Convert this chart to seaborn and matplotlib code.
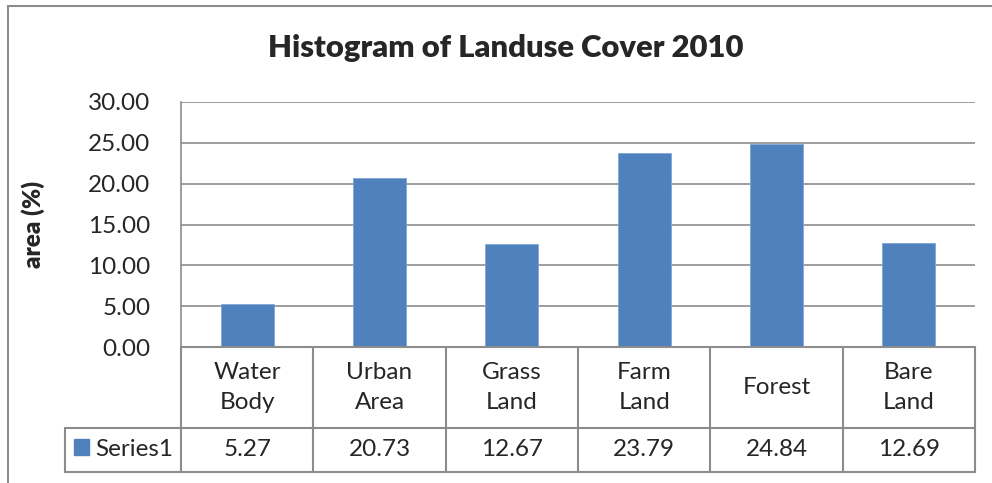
import matplotlib
matplotlib.use("Agg")
import matplotlib.pyplot as plt
import seaborn as sns
import pandas as pd
from matplotlib.lines import Line2D
from matplotlib.patches import Rectangle

categories = ["Water\nBody", "Urban\nArea", "Grass\nLand", "Farm\nLand", "Forest", "Bare\nLand"]
values = [5.27, 20.73, 12.67, 23.79, 24.84, 12.69]
value_labels = ["5.27", "20.73", "12.67", "23.79", "24.84", "12.69"]
series_name = "Series1"
yticks = [0, 5, 10, 15, 20, 25, 30]

df = pd.DataFrame({"cat": categories, "val": values})

sns.set_style("white")
plt.rcParams["font.family"] = ["Lato", "DejaVu Sans"]

W, H = 992, 483
fig = plt.figure(figsize=(W / 100, H / 100), dpi=100)

def fx(x):
    return x / W

def fy(y):
    return 1 - y / H

# plot area in pixels
left, right, top, bottom = 181, 975, 102, 347
ax = fig.add_axes([fx(left), fy(bottom), fx(right) - fx(left), fy(top) - fy(bottom)])

bar_color = "#4F81BD"
sns.barplot(data=df, x="cat", y="val", color=bar_color, width=0.4, saturation=1,
            edgecolor="#7fa6d6", linewidth=0.6, ax=ax)

grid_c = "#8c8c8c"
fs = 17.5
ax.set_ylim(0, 30)
ax.set_yticks(yticks)
ax.set_yticklabels([f"{t:.2f}" for t in yticks], fontsize=fs)
ax.tick_params(axis="y", length=0, pad=22)
ax.set_xticks([])
ax.set_xlabel("")
ax.set_ylabel("area (%)", fontsize=17.5, fontweight=800, labelpad=31)
ax.yaxis.grid(True, color=grid_c, linewidth=1.2)
ax.set_axisbelow(True)
for s in ["top", "right", "bottom"]:
    ax.spines[s].set_visible(False)
ax.spines["left"].set_color(grid_c)
ax.spines["left"].set_linewidth(1.2)

fig.text(fx(506), fy(48), "Histogram of Landuse Cover 2010", ha="center", va="center",
         fontsize=22.3, fontweight=800)

# data table
def hline(y, x0, x1):
    fig.add_artist(Line2D([fx(x0), fx(x1)], [fy(y), fy(y)], color=grid_c, lw=1.5))

def vline(x, y0, y1):
    fig.add_artist(Line2D([fx(x), fx(x)], [fy(y0), fy(y1)], color=grid_c, lw=1.5))

row1, row2, row3 = 347, 428, 472
colw = (right - left) / len(categories)
hline(row1, left, right)
hline(row2, 65, right)
hline(row3, 65, right)
vline(65, row2, row3)
for i in range(len(categories) + 1):
    vline(left + i * colw, row1, row3)

for i, (c, v) in enumerate(zip(categories, value_labels)):
    cx = left + (i + 0.5) * colw
    fig.text(fx(cx), fy((row1 + row2) / 2), c, ha="center", va="center", fontsize=fs,
             linespacing=1.55)
    fig.text(fx(cx), fy((row2 + row3) / 2), v, ha="center", va="center", fontsize=fs)

fig.add_artist(Rectangle((fx(74), fy(455)), fx(89) - fx(74), fy(439) - fy(455),
                         color=bar_color, transform=fig.transFigure))
fig.text(fx(95), fy((row2 + row3) / 2), series_name, ha="left", va="center", fontsize=fs)

# outer chart border
vline(8, 6, H)
hline(6, 8, W)

fig.savefig("out.png", dpi=100)
